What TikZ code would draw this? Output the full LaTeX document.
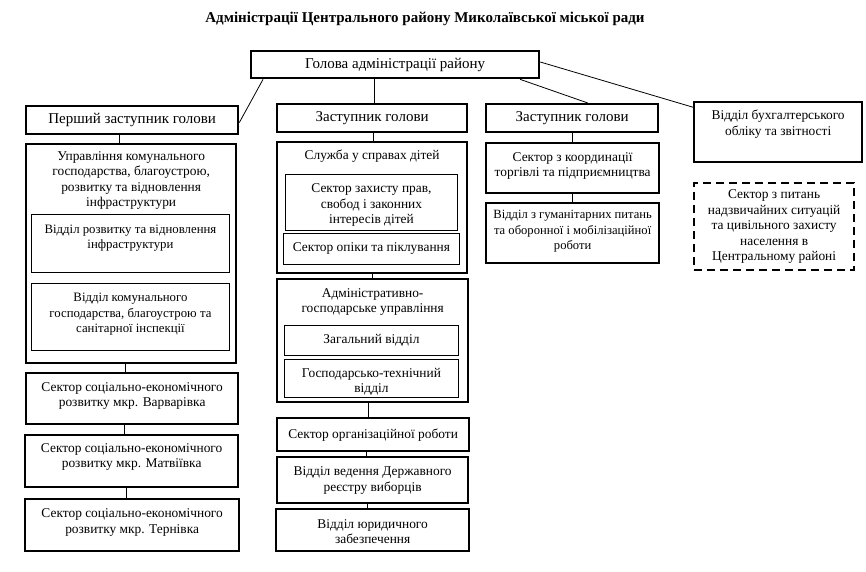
\documentclass[tikz,border=0pt]{standalone}
\usepackage{fontspec}
\setmainfont{Liberation Serif}
\usetikzlibrary{calc}
\begin{document}
\begin{tikzpicture}[x=1pt,y=-1pt,
  font=\fontsize{13.4}{15.5}\selectfont,
  big/.style={font=\fontsize{15}{17}\selectfont},
  small/.style={font=\fontsize{12.8}{15.5}\selectfont},
  obox/.style={draw, line width=2.3pt, anchor=north west, inner sep=0pt},
  ibox/.style={draw, line width=0.9pt, anchor=north west, inner sep=0pt},
  dbox/.style={draw, line width=2.3pt, dash pattern=on 8pt off 5pt, anchor=north west, inner sep=0pt, align=center},
  tlbl/.style={align=center, inner sep=0pt, anchor=north, yshift=-#1},
  conn/.style={line width=0.8pt}]
\useasboundingbox (0,0) rectangle (866,571);

\node[font=\bfseries\fontsize{15}{17}\selectfont] (title) at (425,19) {Адміністрації Центрального району Миколаївської міської ради};

% top level
\node[obox, big, minimum width=288pt, minimum height=27pt] (head) at (250,50) {Голова адміністрації району};
\node[obox, big, minimum width=212pt, minimum height=28pt] (first) at (25,105) {Перший заступник голови};
\node[obox, big, minimum width=190pt, minimum height=28pt] (z2) at (276,103) {Заступник голови};
\node[obox, big, minimum width=172pt, minimum height=28pt] (z3) at (485,103) {Заступник голови};
\node[obox, minimum width=168pt, minimum height=60pt] (bux) at (693,101) {};
\node[tlbl=9pt] (buxt) at (bux.north) {Відділ бухгалтерського\\обліку та звітності};
\node[dbox, minimum width=160pt, minimum height=87pt] (ns) at (693,182) {Сектор з питань\\надзвичайних ситуацій\\та цивільного захисту\\населення в\\Центральному районі};

% left column
\node[obox, minimum width=210pt, minimum height=219pt] (upr) at (25,143) {};
\node[tlbl=8pt] (uprt) at (upr.north) {Управління комунального\\господарства, благоустрою,\\розвитку та відновлення\\інфраструктури};
\node[ibox, minimum width=198pt, minimum height=58pt] (rozv) at (31,214) {};
\node[tlbl=10.5pt, small] (rozvt) at (rozv.north) {Відділ розвитку та відновлення\\інфраструктури};
\node[ibox, minimum width=198pt, minimum height=67pt] (kom) at (31,283) {};
\node[tlbl=10pt, small] (komt) at (kom.north) {Відділ комунального\\господарства, благоустрою та\\санітарної інспекції};
\node[obox, minimum width=212pt, minimum height=51pt] (varv) at (25,372) {};
\node[tlbl=10pt] (varvt) at (varv.north) {Сектор соціально-економічного\\розвитку мкр. Варварівка};
\node[obox, minimum width=213pt, minimum height=52pt] (matv) at (24,434) {};
\node[tlbl=9pt] (matvt) at (matv.north) {Сектор соціально-економічного\\розвитку мкр. Матвіївка};
\node[obox, minimum width=214pt, minimum height=52pt] (tern) at (24,498) {};
\node[tlbl=10.5pt] (ternt) at (tern.north) {Сектор соціально-економічного\\розвитку мкр. Тернівка};

% middle column
\node[obox, minimum width=190pt, minimum height=131pt] (sl) at (276,141) {};
\node[tlbl=9pt] (slt) at (sl.north) {Служба у справах дітей};
\node[ibox, minimum width=172pt, minimum height=56pt] (zakh) at (285,174) {};
\node[tlbl=9.5pt] (zakht) at (zakh.north) {Сектор захисту прав,\\свобод і законних\\інтересів дітей};
\node[ibox, minimum width=176pt, minimum height=31pt] (op) at (283,233) {Сектор опіки та піклування};
\node[obox, minimum width=191pt, minimum height=123pt] (adm) at (276,278) {};
\node[tlbl=10pt] (admt) at (adm.north) {Адміністративно-\\господарське управління};
\node[ibox, minimum width=174pt, minimum height=30pt] (zag) at (284,325) {Загальний відділ};
\node[ibox, minimum width=174pt, minimum height=38pt] (gosp) at (284,359) {};
\node[tlbl=9pt] (gospt) at (gosp.north) {Господарсько-технічний\\відділ};
\node[obox, minimum width=192pt, minimum height=33pt] (org) at (276,417) {Сектор організаційної роботи};
\node[obox, minimum width=191pt, minimum height=46pt] (reestr) at (276,456) {};
\node[tlbl=10.5pt] (reestrt) at (reestr.north) {Відділ ведення Державного\\реєстру виборців};
\node[obox, minimum width=193pt, minimum height=42pt] (yur) at (275,508) {};
\node[tlbl=11pt] (yurt) at (yur.north) {Відділ юридичного\\забезпечення};

% right column
\node[obox, minimum width=173pt, minimum height=50pt] (koord) at (485,142) {};
\node[tlbl=10pt] (koordt) at (koord.north) {Сектор з координації\\торгівлі та підприємництва};
\node[obox, minimum width=173pt, minimum height=60pt] (hum) at (485,202) {};
\node[tlbl=8pt, font=\fontsize{12.6}{15.5}\selectfont] (humt) at (hum.north) {Відділ з гуманітарних питань\\та оборонної і мобілізаційної\\роботи};

% connectors
\draw[conn] ($(head.south west)!0.045!(head.south east)$) -- ($(first.north east)!0.58!(first.south east)$);
\draw[conn] ($(head.south west)+(124,0)$) -- ($(z2.north west)+(98,0)$);
\draw[conn] ($(head.south west)!0.93!(head.south east)$) -- ($(z3.north west)!0.59!(z3.north east)$);
\draw[conn] ($(head.north east)!0.41!(head.south east)$) -- ($(bux.north west)!0.1!(bux.south west)$);

\draw[conn] ($(first.south west)+(94,0)$) -- ($(upr.north west)+(94,0)$);
\draw[conn] ($(upr.south west)+(100,0)$) -- ($(varv.north west)+(100,0)$);
\draw[conn] ($(varv.south west)+(99,0)$) -- ($(matv.north west)+(100,0)$);
\draw[conn] ($(matv.south west)+(102,0)$) -- ($(tern.north west)+(102,0)$);

\draw[conn] ($(z2.south west)+(97,0)$) -- ($(sl.north west)+(97,0)$);
\draw[conn] ($(sl.south west)+(96,0)$) -- ($(adm.north west)+(96,0)$);
\draw[conn] ($(adm.south west)+(92,0)$) -- ($(org.north west)+(92,0)$);
\draw[conn] ($(org.south west)+(90,0)$) -- ($(reestr.north west)+(90,0)$);
\draw[conn] ($(reestr.south west)+(91,0)$) -- ($(yur.north west)+(92,0)$);

\draw[conn] ($(z3.south west)+(87,0)$) -- ($(koord.north west)+(87,0)$);
\draw[conn] ($(koord.south west)+(87,0)$) -- ($(hum.north west)+(87,0)$);
\end{tikzpicture}
\end{document}
